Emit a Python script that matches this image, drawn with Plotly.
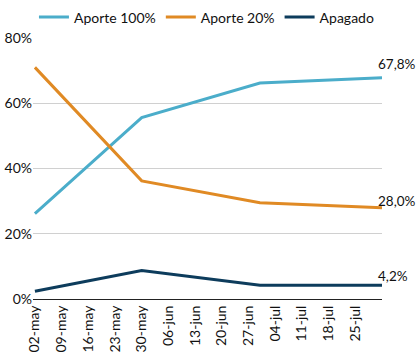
import plotly.graph_objects as go

dates = ["2022-05-02", "2022-05-30", "2022-06-30", "2022-08-01"]
aporte100 = [26.2, 55.6, 66.2, 67.8]
aporte20 = [71.0, 36.2, 29.5, 28.0]
apagado = [2.4, 8.7, 4.2, 4.2]

tick_vals = ["2022-05-02", "2022-05-09", "2022-05-16", "2022-05-23", "2022-05-30",
             "2022-06-06", "2022-06-13", "2022-06-20", "2022-06-27", "2022-07-04",
             "2022-07-11", "2022-07-18", "2022-07-25"]
tick_text = ["02-may", "09-may", "16-may", "23-may", "30-may", "06-jun", "13-jun",
             "20-jun", "27-jun", "04-jul", "11-jul", "18-jul", "25-jul"]
end_labels = ["67,8%", "28,0%", "4,2%"]

names = ["Aporte 100%", "Aporte 20%", "Apagado"]
colors = ["#4BADCA", "#E08A24", "#0D3C5C"]
series = [aporte100, aporte20, apagado]
shifts = [14, 7, 9]

font = "Lato"
fig = go.Figure()
for n, c, s in zip(names, colors, series):
    fig.add_trace(go.Scatter(x=dates, y=s, name=n, mode="lines",
                             line=dict(color=c, width=3)))

for s, lab, sh in zip(series, end_labels, shifts):
    fig.add_annotation(x=dates[-1], y=s[-1], text=lab, showarrow=False,
                       xanchor="left", yanchor="middle", xshift=-6, yshift=sh,
                       font=dict(family=font, size=13.5, color="#111111"))

fig.update_layout(
    width=416, height=354,
    margin=dict(l=33, r=34, t=37.5, b=55, autoexpand=False),
    plot_bgcolor="white", paper_bgcolor="white",
    font=dict(family=font, size=13, color="#111111"),
    showlegend=True,
    legend=dict(orientation="h", yref="paper", y=1.14, yanchor="top",
                x=0.497, xanchor="center", font=dict(size=14, family=font),
                itemwidth=30, traceorder="normal"),
    xaxis=dict(type="date", range=["2022-05-01 12:00", "2022-08-01"],
               tickmode="array", tickvals=tick_vals, ticktext=tick_text,
               tickangle=-90, showgrid=False, showline=True,
               linecolor="#222222", linewidth=1, ticks="", automargin=False,
               tickfont=dict(size=14, family=font), zeroline=False),
    yaxis=dict(range=[0, 80], tickvals=[0, 20, 40, 60, 80],
               ticktext=["0%", "20%", "40%", "60%", "80%"],
               showgrid=True, gridcolor="#D0D0D0", gridwidth=1, automargin=False,
               zeroline=False, showline=False, ticks="",
               tickfont=dict(size=14, family=font)),
)

fig.write_html("out.html")
